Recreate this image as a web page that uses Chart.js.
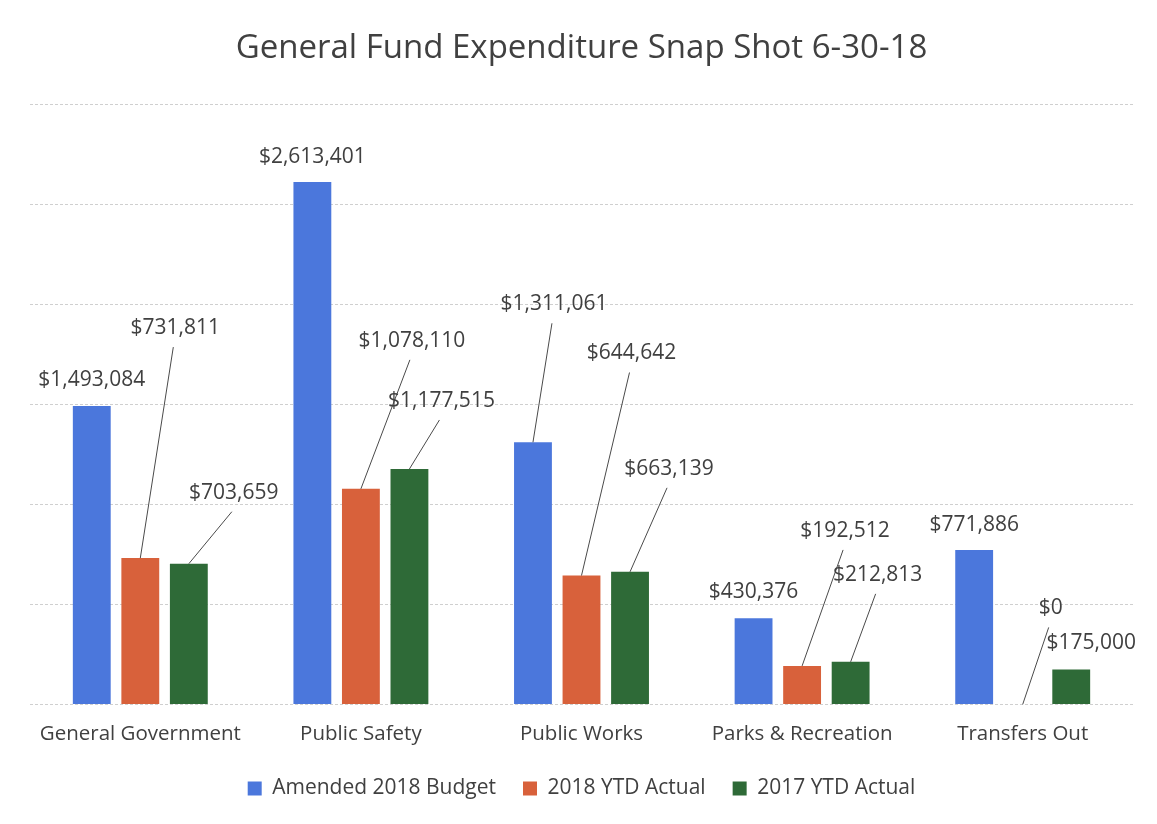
<!DOCTYPE html>
<html>
<head>
<meta charset="utf-8">
<script src="https://cdn.jsdelivr.net/npm/chart.js@4.4.1/dist/chart.umd.min.js"></script>
<style>
    html, body { margin: 0; padding: 0; background: #fff; }
    #wrap { width: 1157px; height: 824px; }
</style>
</head>
<body>
<div id="wrap"><canvas id="fund.chart" width="1157" height="824"></canvas></div>
<script>
const categories = ['General Government', 'Public Safety', 'Public Works', 'Parks & Recreation', 'Transfers Out'];
const budget2018 = [1493084, 2613401, 1311061, 430376, 771886];
const actual2018 = [731811, 1078110, 644642, 192512, 0];
const actual2017 = [703659, 1177515, 663139, 212813, 175000];
const yTicks = [0, 500000, 1000000, 1500000, 2000000, 2500000, 3000000];

// where each value label sits relative to the top of its bar [dx, dy, leader line?]
const labelPlacement = [
    [[0, -26, false], [0, -25, false], [21, -138, true], [0, -26, false], [0, -25, false]],
    [[35, -230, true], [51, -148, true], [50, -222, true], [43, -135, true], [28, -96, true]],
    [[45, -71, true], [32, -68, true], [39, -103, true], [27, -87, true], [20, -26, false]]
];

const FONT = '"Open Sans", "Noto Sans", sans-serif';
const TEXT = '#404040';

const valueLabels = {
    id: 'valueLabels',
    afterDatasetsDraw(chart) {
        const ctx = chart.ctx;
        ctx.save();
        ctx.font = '21px ' + FONT;
        ctx.textAlign = 'center';
        ctx.textBaseline = 'middle';
        chart.data.datasets.forEach((ds, i) => {
            const meta = chart.getDatasetMeta(i);
            meta.data.forEach((bar, j) => {
                const [dx, dy, leader] = labelPlacement[i][j];
                const lx = bar.x + dx;
                const ly = bar.y + dy;
                if (leader) {
                    ctx.strokeStyle = '#4a4a4a';
                    ctx.lineWidth = 1;
                    ctx.beginPath();
                    ctx.moveTo(bar.x, bar.y);
                    ctx.lineTo(lx - 2, ly + 19);
                    ctx.stroke();
                }
                ctx.fillStyle = TEXT;
                ctx.fillText('$' + ds.data[j].toLocaleString('en-US'), lx, ly);
            });
        });
        ctx.restore();
    }
};

const chart = new Chart(document.getElementById('fund.chart'), {
    type: 'bar',
    data: {
        labels: categories,
        datasets: [
            { label: 'Amended 2018 Budget', data: budget2018, backgroundColor: '#4b77dc' },
            { label: '2018 YTD Actual', data: actual2018, backgroundColor: '#d8613b' },
            { label: '2017 YTD Actual', data: actual2017, backgroundColor: '#2e6a37' }
        ]
    },
    options: {
        responsive: false,
        animation: false,
        layout: { padding: { left: 30, right: 24, top: 0, bottom: 15 } },
        datasets: {
            bar: { categoryPercentage: 0.66, barPercentage: 0.78 }
        },
        plugins: {
            title: {
                display: true,
                text: 'General Fund Expenditure Snap Shot 6-30-18',
                color: TEXT,
                font: { family: FONT, size: 33, weight: 'normal' },
                padding: { top: 29, bottom: 36 }
            },
            legend: {
                position: 'bottom',
                labels: {
                    color: TEXT,
                    font: { family: FONT, size: 21 },
                    boxWidth: 14,
                    boxHeight: 14,
                    padding: 27
                }
            },
            tooltip: { enabled: false }
        },
        scales: {
            x: {
                grid: { display: false },
                border: { display: false },
                ticks: { color: TEXT, font: { family: FONT, size: 20.5 }, padding: 9, maxRotation: 0 },
                afterFit(scale) { scale.height = scale.height - 4; }
            },
            y: {
                min: 0,
                max: 3000000,
                afterBuildTicks(scale) { scale.ticks = yTicks.map(v => ({ value: v })); },
                afterFit(scale) { scale.width = 0; },
                ticks: { display: false },
                border: { display: false, dash: [3, 2] },
                grid: { color: '#cfcfcf', lineWidth: 1, drawTicks: false }
            }
        }
    },
    plugins: [valueLabels]
});
</script>
</body>
</html>
